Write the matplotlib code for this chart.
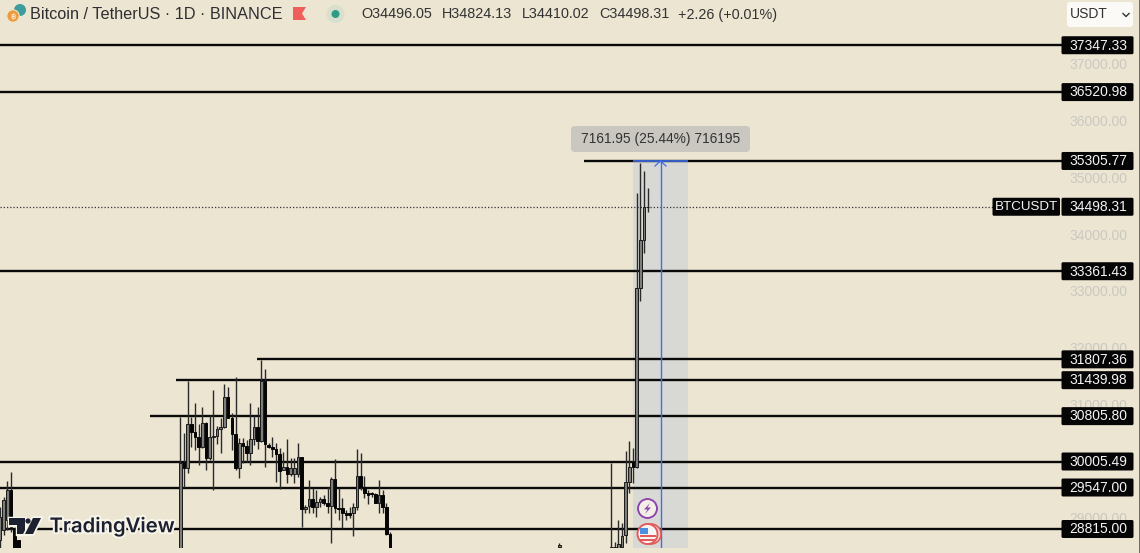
import matplotlib
matplotlib.use("Agg")
import matplotlib.pyplot as plt
import matplotlib.patheffects as pe
from matplotlib.patches import FancyBboxPatch, Circle, Polygon, Rectangle
from matplotlib.transforms import blended_transform_factory as blend

BG = '#ece5d2'
plt.rcParams['font.family'] = ['Liberation Sans', 'DejaVu Sans']

days = [-49, -48, -47, -46, -45, -44] + list(range(0, 58)) + [103, 117, 118, 119, 120, 121, 122, 123, 124, 125, 126, 127]
opens = [28620, 28797, 28973, 29502, 28826, 28620,
         28450, 30002, 29885, 30667, 30531, 30443, 30255, 30690, 30061, 30431, 30455, 30573, 30608, 31149, 30767, 30490,
         29885, 30326, 30279, 30149, 30396, 30608, 30373, 31431, 30296, 30267, 30220, 30137, 29855, 29902, 29785, 29785,
         29785, 30079, 29161, 29220, 29338, 29208, 29291, 29338, 29279, 29220, 29690, 29179, 29179, 29091, 29091, 29091,
         29197, 29749, 29561, 29444, 29444, 29426, 29279, 29414, 29197, 28720,
         28490, 28450, 28450, 28450, 28500, 28709, 29649, 29990, 29914, 33059, 33911, 34496.05]
highs = [29208, 29385, 29667, 29814, 28856, 28620,
         30796, 30502, 31431, 30796, 31043, 30667, 30972, 30708, 30825, 31266, 30631, 30767, 31372, 31325, 30855, 31490,
         30414, 30414, 30384, 31031, 30825, 30972, 31796, 31631, 30326, 30431, 30326, 30237, 30179, 30396, 30061, 30061,
         30337, 30090, 29238, 29679, 29532, 29502, 29385, 29414, 29561, 29726, 30043, 29532, 29355, 29150, 29208, 29267,
         30232, 30149, 29749, 29502, 29473, 29444, 29679, 29502, 29267, 28767,
         28573, 29984, 28591, 28973, 28914, 30196, 30372, 30237, 34734, 35275, 35128, 34824.13]
lows = [28400, 28709, 28797, 28767, 28400, 28400,
        28400, 29561, 29796, 30267, 30208, 29943, 30237, 29855, 30032, 29502, 30314, 30149, 30590, 30767, 30208, 29855,
        29708, 29973, 30002, 29943, 30296, 30220, 30355, 29902, 30237, 30079, 29649, 29514, 29855, 29620, 29749, 29620,
        29738, 28856, 29091, 29091, 29091, 29032, 29208, 29238, 29091, 28573, 29091, 28973, 28826, 28973, 29003, 28697,
        29150, 29502, 29355, 29255, 29385, 29279, 29091, 29091, 28709, 28400,
        28450, 28400, 28400, 28400, 28400, 28573, 29455, 29632, 29885, 32835, 33676, 34410.02]
closes = [29032, 29326, 29502, 28826, 28450, 28450,
          29973, 29885, 30667, 30531, 30443, 30255, 30690, 30061, 30431, 30455, 30573, 30608, 31149, 30767, 30490, 29885,
          30326, 30279, 30149, 30396, 30608, 30373, 31431, 30314, 30267, 30220, 30137, 29843, 29902, 29785, 29885, 29885,
          30079, 29161, 29208, 29338, 29208, 29297, 29338, 29279, 29220, 29690, 29179, 29161, 29091, 29067, 29067, 29197,
          29749, 29561, 29444, 29414, 29432, 29279, 29414, 29197, 28720, 28450,
          28540, 28500, 28500, 28550, 28691, 29649, 29902, 29914, 33059, 33911, 34487, 34498.31]

level_values = [37347.33, 36520.98, 35305.77, 33361.43, 31807.36, 31439.98, 30805.80, 30005.49, 29547.00, 28815.00]
level_starts = [-49, -49, 109.7, -49, 20.8, -1.2, -8.2, -49, -49, -49]
axis_ticks = [37000, 36000, 35000, 34000, 33000, 32000, 31000, 29000]
last_price = 34498.31
measure_low = 28143.82
measure_high = 35305.77
measure_start, measure_end = 123, 138
title = 'Bitcoin / TetherUS · 1D · BINANCE'
ohlc_parts = [('O', '34496.05'), ('H', '34824.13'), ('L', '34410.02'), ('C', '34498.31')]
change = '+2.26 (+0.01%)'
measure_text = '7161.95 (25.44%) 716195'

fig = plt.figure(figsize=(11.4, 5.53), dpi=100, facecolor=BG)
ax = fig.add_axes([0, 5 / 553, 1, 548 / 553], facecolor=BG)
ax.set_xlim(-49, 260.8)
ax.set_ylim(28480, 38145)
ax.axis('off')
ov = fig.add_axes([0, 0, 1, 1], facecolor='none')
ov.set_xlim(0, 1140)
ov.set_ylim(553, 0)
ov.axis('off')
bt = blend(ov.transData, ax.transData)


def label_y(v):
    return 553 - ax.transData.transform((0, v))[1]


# axis tick texts
for t in axis_ticks:
    ov.text(1098, label_y(t) + 0.5, f'{t:.2f}', color='#cbc8c2', fontsize=10, ha='center', va='center', zorder=1)

# measure tool
ax.add_patch(Rectangle((measure_start, measure_low), measure_end - measure_start, measure_high - measure_low,
                       facecolor='#d8d8d4', edgecolor='none', zorder=1.5))

# horizontal levels
for v, s in zip(level_values, level_starts):
    ax.hlines(v, s, 240, color='#0a0a0a', lw=1.7, zorder=2)
ax.hlines(last_price, -49, 221, color='#333333', lw=0.9, linestyles=(0, (1, 1.6)), zorder=2)

# measure outline
mid = (measure_start + measure_end) / 2
ax.vlines(mid, measure_low, measure_high, color='#3f6fe8', lw=1.0, zorder=5)
ax.hlines(measure_high, measure_start, measure_end, color='#3f6fe8', lw=1.2, zorder=5)
ov.plot([655, 660.5, 666], [166, 161, 166], color='#3f6fe8', lw=0.9, zorder=5)

# candles
for d, o, h, l, c in zip(days, opens, highs, lows, closes):
    up = c >= o
    ax.vlines(d, l, h, color='#2a2a2a', lw=1.0, zorder=3)
    ax.bar(d, abs(c - o), bottom=min(o, c), width=0.72,
           color='#7d7d7a' if up else '#050505', edgecolor='#1a1a1a' if up else '#050505', lw=0.7, zorder=4)

# tooltip
ov.add_patch(FancyBboxPatch((573, 128), 175, 22, boxstyle='round,pad=2,rounding_size=4', fc='#c9c7c0', ec='none', zorder=6))
ov.text(660.5, 139, measure_text, fontsize=9.9, color='#333333', ha='center', va='center', zorder=7)

# price labels
for v in level_values + [last_price]:
    y = label_y(v)
    ov.add_patch(FancyBboxPatch((1062, y - 8.5), 71, 17, boxstyle='round,pad=0.5,rounding_size=1.5',
                                fc='#050505', ec='none', zorder=8))
    ov.text(1098, y + 0.3, f'{v:.2f}', color='#f4f4f4', fontsize=10, ha='center', va='center', zorder=9)
ly = label_y(last_price)
ov.add_patch(FancyBboxPatch((993, ly - 8.5), 66.5, 17, boxstyle='round,pad=0.5,rounding_size=1.5', fc='#050505', ec='none', zorder=8))
ov.text(1026.5, ly + 0.3, 'BTCUSDT', color='#f4f4f4', fontsize=9.6, ha='center', va='center', zorder=9)

# header
ov.text(30, 14.5, title, fontsize=11.7, color='#2f2f33', ha='left', va='center', zorder=9)
xs = [361, 441.5, 521.5, 599.3]
for (k, val), x in zip(ohlc_parts, xs):
    ov.text(x, 14.5, k + val, fontsize=10.4, color='#333333', ha='left', va='center', zorder=9)
ov.text(678.3, 14.5, change, fontsize=10.4, color='#333333', ha='left', va='center', zorder=9)

# header icons
ov.add_patch(Circle((20, 10), 6, fc='#3f9c9c', ec='none', zorder=9))
ov.add_patch(Circle((13, 16), 6.2, fc='#ef9a3c', ec=BG, lw=0.8, zorder=10))
ov.text(13, 16.2, '฿', fontsize=6, color='white', ha='center', va='center', zorder=11, family=['DejaVu Sans'])
ov.add_patch(Polygon([(293, 7), (306, 7), (302, 13.5), (306, 20), (293, 20)], fc='#ef5e5b', ec='none', zorder=9))
ov.add_patch(Circle((335.5, 14), 9, fc='#d7dfcd', ec='none', zorder=9))
ov.add_patch(Circle((335.5, 14), 4, fc='#2e9c85', ec='none', zorder=10))

# currency box
ov.add_patch(FancyBboxPatch((1068, 3), 64, 23, boxstyle='round,pad=1,rounding_size=3', fc='#fbfaf6', ec='none', zorder=8))
ov.text(1070, 14.5, 'USDT', fontsize=10, color='#333333', ha='left', va='center', zorder=9)
ov.plot([1123, 1126, 1129], [13.5, 16.5, 13.5], color='#333333', lw=1.0, zorder=9)

# event icons
ov.add_patch(Circle((651, 534), 10, fc='#f1d7cf', ec='#e25a5a', lw=1.2, zorder=9))
ov.add_patch(Circle((647.5, 534), 10, fc='white', ec='#e25a5a', lw=1.4, zorder=10))
ov.add_patch(Circle((647.5, 534), 8, fc='#f4f4f4', ec='none', zorder=10))
for yy in (534.5, 538.5):
    ov.add_patch(Rectangle((640, yy), 15.5, 2, fc='#e25a5a', ec='none', zorder=11))
ov.add_patch(Rectangle((640, 528), 8, 6, fc='#4a90e2', ec='none', zorder=11))
ov.add_patch(Circle((647.5, 508.5), 10.5, fc='white', ec='none', zorder=9))
ov.add_patch(Circle((647.5, 508.5), 9.5, fc='#f4efe6', ec='#8e44ad', lw=1.4, zorder=10))
ov.add_patch(Polygon([(650, 503), (644, 509.5), (647.5, 509.5), (645, 514), (651, 507.5), (647.5, 507.5)],
                     fc='#8e44ad', ec='none', zorder=11))

# TradingView logo
halo = [pe.withStroke(linewidth=3, foreground='#f7f4ea')]
ov.text(49.5, 527, 'TradingView', fontsize=14.6, fontweight='semibold', family=['Inter', 'DejaVu Sans'],
        color='#1c2030', ha='left', va='center', zorder=12, path_effects=halo)
for pts in ([(9, 518), (25, 518), (25, 534), (17, 534), (17, 525), (9, 525)],
            [(33, 518), (41, 518), (33, 534), (25, 534)]):
    p = Polygon(pts, fc='#1c2030', ec='none', zorder=12)
    p.set_path_effects([pe.withStroke(linewidth=2.5, foreground='#f7f4ea')])
    ov.add_patch(p)
ov.add_patch(Circle((28, 521), 2.6, fc='#1c2030', ec='none', zorder=12))

# thin dark edge at the far right
ov.add_patch(Rectangle((1139, 0), 1, 553, fc='#6a6a6a', ec='none', zorder=12))

fig.savefig('out.png', dpi=100, facecolor=BG)
